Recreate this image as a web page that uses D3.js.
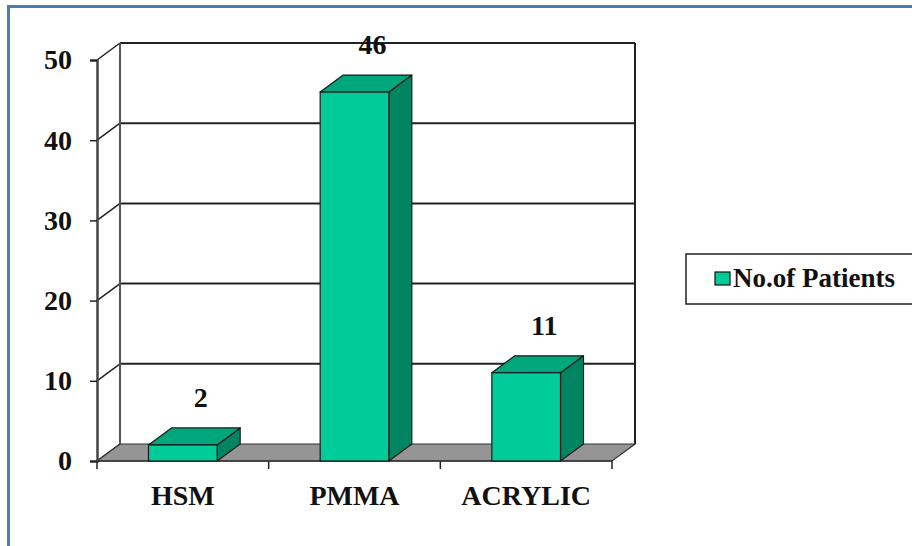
<!DOCTYPE html>
<html>
<head>
<meta charset="utf-8">
<script src="https://cdn.jsdelivr.net/npm/d3@7"></script>
<style>
  html, body { margin: 0; padding: 0; background: #fff; }
  svg { display: block; }
  svg text { font-family: "Liberation Serif", "Times New Roman", Times, "DejaVu Serif", serif !important; font-weight: bold; fill: #111; }
</style>
</head>
<body>
<svg id="chart" width="912" height="546"></svg>
<script>
// ---- data ----
const categories = ["HSM", "PMMA", "ACRYLIC"];
const patients = [2, 46, 11];
const yTicks = [0, 10, 20, 30, 40, 50];
const seriesName = "No.of Patients";

// ---- layout ----
const W = 912, H = 546;
const plotLeft = 97, plotRight = 612, plotBottom = 461, plotTop = 60;
const dx = 23, dy = 17; // 3D depth offset
const colFront = "#00CC99", colTop = "#00A67C", colSide = "#008462";
const FONT = "'Liberation Serif', 'Times New Roman', Times, 'DejaVu Serif', serif";

const svg = d3.select("#chart");

// outer border
svg.append("rect").attr("x", 8.5).attr("y", 6.5).attr("width", W + 20).attr("height", H + 20)
  .attr("fill", "none").attr("stroke", "#4A7EBB").attr("stroke-width", 3);

const x = d3.scaleBand().domain(categories).range([plotLeft, plotRight]).paddingInner(0.6).paddingOuter(0.3);
const y = d3.scaleLinear().domain([0, 50]).range([plotBottom, plotTop]);

const g = svg.append("g");

// back wall gridlines and side wall diagonals
yTicks.forEach(t => {
  const yy = y(t);
  if (t > 0) {
    g.append("line").attr("x1", plotLeft + dx).attr("x2", plotRight + dx).attr("y1", yy - dy).attr("y2", yy - dy)
      .attr("stroke", "#222").attr("stroke-width", 2);
  }
  g.append("line").attr("x1", plotLeft).attr("y1", yy).attr("x2", plotLeft + dx).attr("y2", yy - dy)
    .attr("stroke", "#222").attr("stroke-width", 1.5);
});
// back wall verticals
g.append("line").attr("x1", plotLeft + dx).attr("x2", plotLeft + dx).attr("y1", y(50) - dy).attr("y2", y(0) - dy)
  .attr("stroke", "#555").attr("stroke-width", 2);
g.append("line").attr("x1", plotRight + dx).attr("x2", plotRight + dx).attr("y1", y(50) - dy).attr("y2", y(0) - dy)
  .attr("stroke", "#222").attr("stroke-width", 2);

// floor
g.append("polygon")
  .attr("points", [[plotLeft, plotBottom], [plotRight, plotBottom], [plotRight + dx, plotBottom - dy], [plotLeft + dx, plotBottom - dy]].map(p => p.join(",")).join(" "))
  .attr("fill", "#959595").attr("stroke", "#333").attr("stroke-width", 1.2);

// front y axis
const yAxis = d3.axisLeft(y).tickValues(yTicks).tickSize(7).tickPadding(18).tickFormat(d3.format("d"));
const ya = g.append("g").attr("transform", `translate(${plotLeft},0)`).call(yAxis);
ya.attr("font-family", FONT).attr("font-size", 28);
ya.select(".domain").attr("stroke", "#444").attr("stroke-width", 2.5);
ya.selectAll(".tick line").attr("stroke", "#222").attr("stroke-width", 1.5);
ya.selectAll(".tick text").attr("fill", "#111");

// category boundary ticks
const step = x.step();
d3.range(categories.length + 1).forEach(i => {
  const xx = plotLeft + i * step;
  g.append("line").attr("x1", xx).attr("x2", xx).attr("y1", plotBottom).attr("y2", plotBottom + 8)
    .attr("stroke", "#222").attr("stroke-width", 1.5);
});
g.append("line").attr("x1", plotLeft).attr("x2", plotRight).attr("y1", plotBottom).attr("y2", plotBottom)
  .attr("stroke", "#333").attr("stroke-width", 1.5);

// category labels
const xAxis = d3.axisBottom(x).tickSize(0).tickPadding(24);
const xa = g.append("g").attr("transform", `translate(0,${plotBottom})`).call(xAxis);
xa.attr("font-family", FONT).attr("font-size", 28);
xa.select(".domain").remove();
xa.selectAll(".tick text").attr("fill", "#111");

// bars
const data = categories.map((c, i) => ({ c, v: patients[i] }));
const bw = x.bandwidth();
const bars = g.selectAll(".bar").data(data).join("g").attr("class", "bar");
bars.append("polygon") // side
  .attr("points", d => {
    const x1 = x(d.c) + bw, yt = y(d.v), yb = y(0);
    return [[x1, yt], [x1 + dx, yt - dy], [x1 + dx, yb - dy], [x1, yb]].map(p => p.join(",")).join(" ");
  })
  .attr("fill", colSide).attr("stroke", "#1a1a1a").attr("stroke-width", 1.2).attr("stroke-linejoin", "round");
bars.append("polygon") // top
  .attr("points", d => {
    const x0 = x(d.c), x1 = x0 + bw, yt = y(d.v);
    return [[x0, yt], [x0 + dx, yt - dy], [x1 + dx, yt - dy], [x1, yt]].map(p => p.join(",")).join(" ");
  })
  .attr("fill", colTop).attr("stroke", "#1a1a1a").attr("stroke-width", 1.2).attr("stroke-linejoin", "round");
bars.append("rect") // front
  .attr("x", d => x(d.c)).attr("y", d => y(d.v)).attr("width", bw).attr("height", d => y(0) - y(d.v))
  .attr("fill", colFront).attr("stroke", "#1a1a1a").attr("stroke-width", 1.2);

// value labels
bars.append("text")
  .attr("x", d => x(d.c) + bw / 2 + 18)
  .attr("y", d => y(d.v) - 38)
  .attr("text-anchor", "middle")
  .attr("font-family", FONT)
  .attr("font-size", 28)
  .text(d => d.v);

// legend
const lg = svg.append("g");
lg.append("rect").attr("x", 686).attr("y", 254).attr("width", 300).attr("height", 50)
  .attr("fill", "#fff").attr("stroke", "#222").attr("stroke-width", 1.5);
lg.append("rect").attr("x", 715).attr("y", 272).attr("width", 15).attr("height", 13)
  .attr("fill", colFront).attr("stroke", "#111").attr("stroke-width", 1.2);
lg.append("text").attr("x", 733).attr("y", 287).attr("font-family", FONT).attr("font-size", 27).text(seriesName);
</script>
</body>
</html>
